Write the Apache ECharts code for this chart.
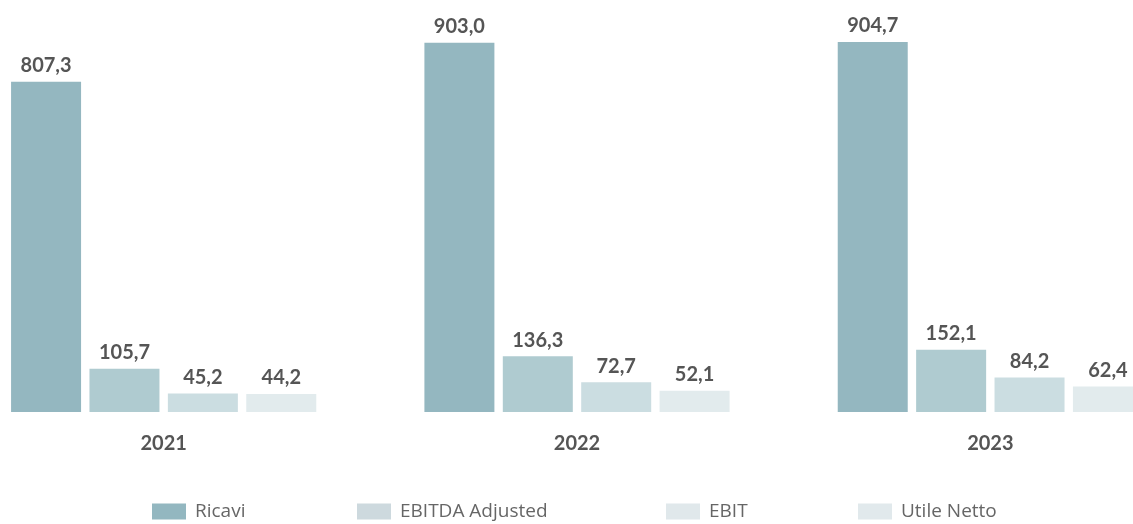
<!DOCTYPE html>
<html>
<head>
<meta charset="utf-8">
<script src="https://cdn.jsdelivr.net/npm/echarts@6/dist/echarts.min.js"></script>
<style>
  html, body { margin: 0; padding: 0; background: #ffffff; }
  #chart { width: 1133px; height: 524px; }
</style>
</head>
<body>
<div id="chart"></div>
<script>
// Financial highlights (millions of euro)
const years = ['2021', '2022', '2023'];
const ricavi = [807.3, 903.0, 904.7];
const ebitdaAdjusted = [105.7, 136.3, 152.1];
const ebit = [45.2, 72.7, 84.2];
const utileNetto = [44.2, 52.1, 62.4];

const seriesNames = ['Ricavi', 'EBITDA Adjusted', 'EBIT', 'Utile Netto'];
const barColors = ['#94b7c0', '#afcbd0', '#cbdde1', '#e2ebed'];
const legendColors = ['#93b7c0', '#cdd9de', '#e0e8eb', '#e1e9ec'];
const legendLeft = [152, 357, 666, 858];

const FONT = 'Lato, "Open Sans", sans-serif';
const LEGEND_FONT = '"Open Sans", Lato, sans-serif';

const fmt = v => v.toFixed(1).replace('.', ',');

const seriesData = [ricavi, ebitdaAdjusted, ebit, utileNetto];

const chart = echarts.init(document.getElementById('chart'), null, { renderer: 'canvas' });

chart.setOption({
  animation: false,
  backgroundColor: '#ffffff',
  grid: {
    left: -43,
    width: 1240,
    top: 3,
    bottom: 112,
    containLabel: false,
    outerBoundsMode: 'none'
  },
  legend: seriesNames.map((name, i) => ({
    data: [{ name: name, itemStyle: { color: legendColors[i] } }],
    left: legendLeft[i],
    top: 502,
    padding: 0,
    itemWidth: 34,
    itemHeight: 16,
    itemGap: 0,
    icon: 'rect',
    selectedMode: false,
    textStyle: {
      fontFamily: LEGEND_FONT,
      fontSize: 19,
      color: '#666666',
      padding: [0, 0, 0, 4]
    }
  })),
  xAxis: {
    type: 'category',
    data: years,
    axisLine: { show: false },
    axisTick: { show: false },
    axisLabel: {
      margin: 22,
      fontFamily: FONT,
      fontSize: 20,
      fontWeight: 'bold',
      color: '#555555'
    }
  },
  yAxis: {
    type: 'value',
    min: 0,
    max: 1000,
    show: false,
    splitLine: { show: false }
  },
  series: seriesNames.map((name, i) => ({
    name: name,
    type: 'bar',
    data: seriesData[i],
    barWidth: 70,
    barGap: '12%',
    itemStyle: { color: barColors[i] },
    label: {
      show: true,
      position: 'top',
      distance: 6,
      formatter: p => fmt(p.value),
      fontFamily: FONT,
      fontSize: 20,
      fontWeight: 'bold',
      color: '#555555'
    }
  }))
});
</script>
</body>
</html>
